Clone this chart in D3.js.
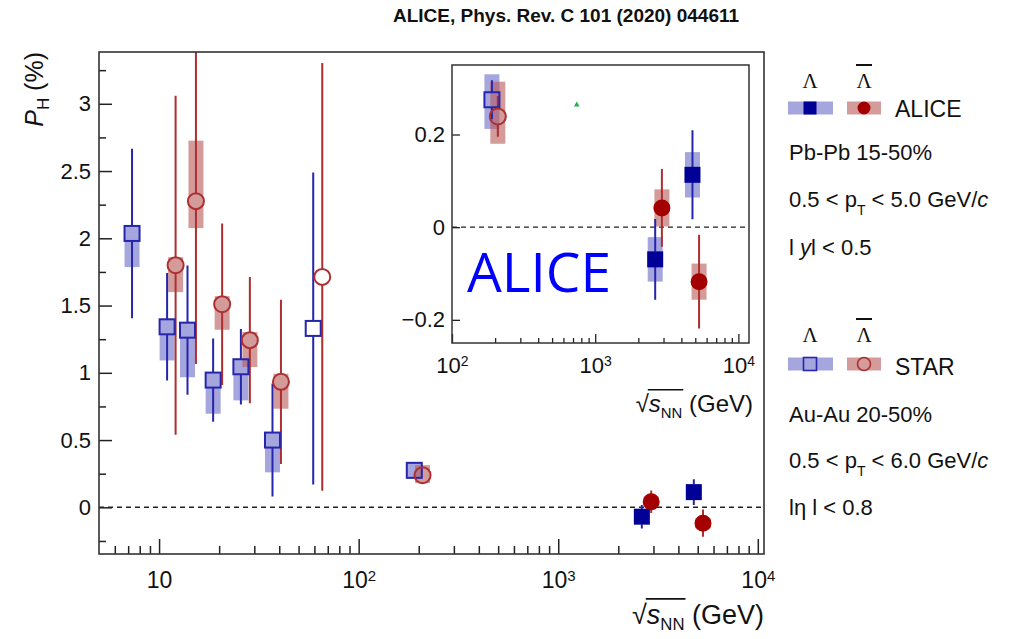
<!DOCTYPE html>
<html>
<head>
<meta charset="utf-8">
<script src="https://cdn.jsdelivr.net/npm/d3@7"></script>
<style>
  body { margin: 0; background: #fff; }
  svg text { font-family: "Liberation Sans", Arial, Helvetica, sans-serif; fill: #111; }
</style>
</head>
<body>
<div id="chart"></div>
<script>
// ---- data (P_H in %, energies in GeV, shifted as drawn) ----
// STAR Au-Au 20-50%, Lambda (open squares)
const starLamEnergy = [7.32, 10.97, 13.88, 18.66, 25.7, 37.0, 59.2, 190];
const starLamPH     = [2.036, 1.342, 1.317, 0.946, 1.045, 0.50, 1.33, 0.275];
const starLamStat   = [0.63, 0.40, 0.48, 0.31, 0.28, 0.42, 1.16, 0.042];
const starLamSysUp  = [0.06, 0.06, 0.06, 0.06, 0.06, 0.06, 0, 0.055];
const starLamSysDn  = [0.25, 0.25, 0.35, 0.25, 0.25, 0.24, 0, 0.063];

// STAR Au-Au 20-50%, anti-Lambda (open circles)
const starAlamEnergy = [12.1, 15.3, 20.7, 28.5, 40.8, 65.7, 209];
const starAlamPH     = [1.80, 2.276, 1.51, 1.243, 0.933, 1.713, 0.239];
const starAlamStat   = [1.26, 1.21, 0.60, 0.47, 0.61, 1.59, 0.044];
const starAlamSysUp  = [0.06, 0.45, 0.06, 0.06, 0.06, 0, 0.075];
const starAlamSysDn  = [0.20, 0.20, 0.19, 0.20, 0.20, 0, 0.059];

// ALICE Pb-Pb 15-50%
const aliceLamEnergy = [2624, 4779];
const aliceLamPH     = [-0.0695, 0.113];
const aliceLamStat   = [0.087, 0.096];
const aliceLamSys    = [0.048, 0.049];

const aliceAlamEnergy = [2923, 5313];
const aliceAlamPH     = [0.0416, -0.1176];
const aliceAlamStat   = [0.084, 0.101];
const aliceAlamSys    = [0.040, 0.039];

// stray green mark inside the inset
const strayEnergy = [743];
const strayPH = [0.264];

// ticks
const mainXMajor = [10, 100, 1000, 10000];
const mainXLabels = [["10", ""], ["10", "2"], ["10", "3"], ["10", "4"]];
const mainXMinor = [6, 7, 8, 9, 20, 30, 40, 50, 60, 70, 80, 90,
  200, 300, 400, 500, 600, 700, 800, 900, 2000, 3000, 4000, 5000, 6000, 7000, 8000, 9000];
const mainYMajor = [0, 0.5, 1, 1.5, 2, 2.5, 3];
const mainYLabels = ["0", "0.5", "1", "1.5", "2", "2.5", "3"];
const mainYMinor = [-0.25, 0.25, 0.75, 1.25, 1.75, 2.25, 2.75, 3.25];

const insetXMajor = [100, 1000, 10000];
const insetXLabels = [["10", "2"], ["10", "3"], ["10", "4"]];
const insetXMinor = [200, 300, 400, 500, 600, 700, 800, 900, 2000, 3000, 4000, 5000, 6000, 7000, 8000, 9000];
const insetYMajor = [-0.2, 0, 0.2];
const insetYLabels = ["\u22120.2", "0", "0.2"];

// colours
const blueLine = "#2626ad", blueBox = "#6b6bc8", blueFill = "#000096";
const redLine = "#ad2f2f", redBox = "#b85858", redFill = "#a30000";
const axisColor = "#222";

const width = 1031, height = 639;

const svg = d3.select("#chart").append("svg")
  .attr("width", width).attr("height", height)
  .attr("viewBox", [0, 0, width, height]);

// ---- helpers ----
function series(energy, ph, stat, up, dn) {
  return energy.map((e, i) => ({ e, v: ph[i], st: stat[i], up: up[i], dn: dn[i] }));
}

function drawBoxes(g, xs, ys, pts, fill) {
  g.append("g").selectAll("rect")
    .data(pts.filter(d => d.up + d.dn > 0))
    .join("rect")
    .attr("x", d => xs(d.e) - 7.5)
    .attr("width", 15)
    .attr("y", d => ys(d.v + d.up))
    .attr("height", d => ys(d.v - d.dn) - ys(d.v + d.up))
    .attr("fill", fill)
    .attr("fill-opacity", 0.6);
}

function drawStat(g, xs, ys, pts, color, half) {
  g.append("g").attr("stroke", color).attr("stroke-width", 2).attr("fill", "none")
    .selectAll("path").data(pts).join("path")
    .attr("d", d => {
      const cx = xs(d.e), cy = ys(d.v);
      const t = ys(d.v + d.st), b = ys(d.v - d.st);
      let p = "";
      if (cy - half > t) p += `M${cx},${t}V${cy - half}`;
      if (cy + half < b) p += `M${cx},${cy + half}V${b}`;
      return p || "M0,0";
    });
}

function drawMarkers(g, xs, ys, pts, shape, stroke, fill, size) {
  const sel = g.append("g").selectAll(shape === "square" ? "rect" : "circle").data(pts);
  if (shape === "square") {
    sel.join("rect")
      .attr("x", d => xs(d.e) - size / 2).attr("y", d => ys(d.v) - size / 2)
      .attr("width", size).attr("height", size)
      .attr("fill", fill).attr("stroke", stroke).attr("stroke-width", 2);
  } else {
    sel.join("circle")
      .attr("cx", d => xs(d.e)).attr("cy", d => ys(d.v)).attr("r", size)
      .attr("fill", fill).attr("stroke", stroke).attr("stroke-width", 2);
  }
}

function addSup(sel, labels, supSize) {
  sel.selectAll(".tick text").each(function (d, i) {
    const lab = labels[i];
    if (lab[1]) {
      d3.select(this).append("tspan").attr("dy", "-0.5em").attr("font-size", supSize).text(lab[1]);
    }
  });
}

function sqrtTitle(g, xRight, yBase, size) {
  const t = g.append("text").attr("x", xRight).attr("y", yBase)
    .attr("text-anchor", "end").attr("font-size", size);
  t.append("tspan").text("\u221A");
  t.append("tspan").attr("font-style", "italic").text("s");
  t.append("tspan").attr("font-size", size * 0.62).attr("dy", size * 0.24).text("NN");
  t.append("tspan").attr("dy", -size * 0.24).text(" (GeV)");
  const n = t.node();
  const b = n.getExtentOfChar(3);
  const r = n.getExtentOfChar(0);
  g.append("line")
    .attr("x1", r.x + r.width - 1).attr("x2", b.x + b.width + 1)
    .attr("y1", yBase - size * 0.93).attr("y2", yBase - size * 0.93)
    .attr("stroke", "#111").attr("stroke-width", size * 0.06);
}

// ---- main plot ----
const mL = 99, mR = 764, mT = 52, mB = 554;
const x = d3.scaleLog().domain([5, 10740]).range([mL, mR]);
const y = d3.scaleLinear().domain([-0.347, 3.385]).range([mB, mT]);

svg.append("clipPath").attr("id", "clipMain")
  .append("rect").attr("x", mL).attr("y", mT).attr("width", mR - mL).attr("height", mB - mT);

const main = svg.append("g");

// x axis
main.append("g").attr("transform", `translate(0,${mB})`).attr("color", axisColor)
  .call(d3.axisBottom(x).tickValues(mainXMinor).tickSize(-8).tickFormat(""))
  .call(g => g.select(".domain").remove())
  .call(g => g.selectAll("line").attr("stroke-width", 1.5));
main.append("g").attr("transform", `translate(0,${mB})`).attr("color", axisColor)
  .call(d3.axisBottom(x).tickValues(mainXMajor).tickSize(-15).tickPadding(18)
    .tickFormat((d, i) => mainXLabels[i][0]))
  .call(g => g.select(".domain").remove())
  .call(g => g.selectAll("line").attr("stroke-width", 1.5))
  .call(g => g.selectAll("text").attr("font-size", 23).attr("fill", "#111")
    .attr("font-family", "Liberation Sans, Arial, sans-serif"))
  .call(g => addSup(g, mainXLabels, 15));

// y axis
main.append("g").attr("transform", `translate(${mL},0)`).attr("color", axisColor)
  .call(d3.axisLeft(y).tickValues(mainYMinor).tickSize(-7).tickFormat(""))
  .call(g => g.select(".domain").remove())
  .call(g => g.selectAll("line").attr("stroke-width", 1.5));
main.append("g").attr("transform", `translate(${mL},0)`).attr("color", axisColor)
  .call(d3.axisLeft(y).tickValues(mainYMajor).tickSize(-13).tickPadding(8)
    .tickFormat((d, i) => mainYLabels[i]))
  .call(g => g.select(".domain").remove())
  .call(g => g.selectAll("line").attr("stroke-width", 1.5))
  .call(g => g.selectAll("text").attr("font-size", 22).attr("fill", "#111")
    .attr("font-family", "Liberation Sans, Arial, sans-serif"));

// zero line
main.append("line")
  .attr("x1", mL).attr("x2", mR).attr("y1", y(0)).attr("y2", y(0))
  .attr("stroke", "#222").attr("stroke-width", 1.4).attr("stroke-dasharray", "5,4");

const starLam = series(starLamEnergy, starLamPH, starLamStat, starLamSysUp, starLamSysDn);
const starAlam = series(starAlamEnergy, starAlamPH, starAlamStat, starAlamSysUp, starAlamSysDn);
const aliceLam = series(aliceLamEnergy, aliceLamPH, aliceLamStat, aliceLamSys, aliceLamSys);
const aliceAlam = series(aliceAlamEnergy, aliceAlamPH, aliceAlamStat, aliceAlamSys, aliceAlamSys);

function drawAll(g, xs, ys) {
  drawBoxes(g, xs, ys, starLam, blueBox);
  drawBoxes(g, xs, ys, starAlam, redBox);
  drawBoxes(g, xs, ys, aliceLam, blueBox);
  drawBoxes(g, xs, ys, aliceAlam, redBox);
  drawStat(g, xs, ys, starLam, blueLine, 7.5);
  drawStat(g, xs, ys, starAlam, redLine, 8);
  drawStat(g, xs, ys, aliceLam, blueLine, 7.5);
  drawStat(g, xs, ys, aliceAlam, redLine, 7.5);
  drawMarkers(g, xs, ys, starLam, "square", blueLine, "none", 15);
  drawMarkers(g, xs, ys, starAlam, "circle", redLine, "none", 8);
  drawMarkers(g, xs, ys, aliceLam, "square", blueFill, blueFill, 14);
  drawMarkers(g, xs, ys, aliceAlam, "circle", redFill, redFill, 7.5);
}

const mainData = main.append("g").attr("clip-path", "url(#clipMain)");
drawAll(mainData, x, y);

// frame
main.append("rect").attr("x", mL).attr("y", mT).attr("width", mR - mL).attr("height", mB - mT)
  .attr("fill", "none").attr("stroke", "#333").attr("stroke-width", 1.6);

// axis titles
sqrtTitle(main, 764, 624, 27);
main.append("text").attr("transform", "translate(43,52) rotate(-90)")
  .attr("text-anchor", "end").attr("font-size", 25)
  .call(t => {
    t.append("tspan").attr("font-style", "italic").text("P");
    t.append("tspan").attr("font-size", 17).attr("dy", 6).text("H");
    t.append("tspan").attr("dy", -6).text(" (%)");
  });

// ---- inset ----
const iL = 452, iR = 749, iT = 65, iB = 343;
const xi = d3.scaleLog().domain([100, 11860]).range([iL, iR]);
const yi = d3.scaleLinear().domain([-0.25, 0.35]).range([iB, iT]);

svg.append("clipPath").attr("id", "clipInset")
  .append("rect").attr("x", iL).attr("y", iT).attr("width", iR - iL).attr("height", iB - iT);

const inset = svg.append("g");
inset.append("rect").attr("x", iL).attr("y", iT).attr("width", iR - iL).attr("height", iB - iT)
  .attr("fill", "#fff");

inset.append("g").attr("transform", `translate(0,${iB})`).attr("color", axisColor)
  .call(d3.axisBottom(xi).tickValues(insetXMinor).tickSize(-5).tickFormat(""))
  .call(g => g.select(".domain").remove())
  .call(g => g.selectAll("line").attr("stroke-width", 1.3));
inset.append("g").attr("transform", `translate(0,${iB})`).attr("color", axisColor)
  .call(d3.axisBottom(xi).tickValues(insetXMajor).tickSize(-9).tickPadding(14)
    .tickFormat((d, i) => insetXLabels[i][0]))
  .call(g => g.select(".domain").remove())
  .call(g => g.selectAll("line").attr("stroke-width", 1.3))
  .call(g => g.selectAll("text").attr("font-size", 22).attr("fill", "#111")
    .attr("font-family", "Liberation Sans, Arial, sans-serif"))
  .call(g => addSup(g, insetXLabels, 14));

inset.append("g").attr("transform", `translate(${iL},0)`).attr("color", axisColor)
  .call(d3.axisLeft(yi).tickValues(insetYMajor).tickSize(-8).tickPadding(7)
    .tickFormat((d, i) => insetYLabels[i]))
  .call(g => g.select(".domain").remove())
  .call(g => g.selectAll("line").attr("stroke-width", 1.3))
  .call(g => g.selectAll("text").attr("font-size", 22).attr("fill", "#111")
    .attr("font-family", "Liberation Sans, Arial, sans-serif"));

inset.append("line")
  .attr("x1", iL).attr("x2", iR).attr("y1", yi(0)).attr("y2", yi(0))
  .attr("stroke", "#222").attr("stroke-width", 1.3).attr("stroke-dasharray", "5,4");

inset.append("text").attr("x", 467).attr("y", 292)
  .attr("font-size", 55)
  .style("font-family", "'Open Sans', sans-serif").style("fill", "#0000ff")
  .text("ALICE");

const insetData = inset.append("g").attr("clip-path", "url(#clipInset)");
drawAll(insetData, xi, yi);

insetData.selectAll(".stray").data(strayEnergy).join("path")
  .attr("class", "stray")
  .attr("transform", (d, i) => `translate(${xi(d)},${yi(strayPH[i])})`)
  .attr("d", d3.symbol(d3.symbolTriangle).size(14))
  .attr("fill", "#22b04a");

inset.append("rect").attr("x", iL).attr("y", iT).attr("width", iR - iL).attr("height", iB - iT)
  .attr("fill", "none").attr("stroke", "#333").attr("stroke-width", 1.5);

sqrtTitle(inset, 753, 412, 24);

// ---- title ----
svg.append("text").attr("x", 393).attr("y", 21.5)
  .attr("font-size", 19).attr("font-weight", "bold")
  .text("ALICE, Phys. Rev. C 101 (2020) 044611");

// ---- legend ----
const legend = svg.append("g");

function lambdaHeads(yBase) {
  legend.append("text").attr("x", 810).attr("y", yBase).attr("text-anchor", "middle")
    .attr("font-size", 21).style("font-family", "'Liberation Serif', 'Times New Roman', serif")
    .text("\u039B");
  legend.append("text").attr("x", 864).attr("y", yBase).attr("text-anchor", "middle")
    .attr("font-size", 21).style("font-family", "'Liberation Serif', 'Times New Roman', serif")
    .text("\u039B");
  legend.append("line").attr("x1", 856).attr("x2", 872)
    .attr("y1", yBase - 23).attr("y2", yBase - 23)
    .attr("stroke", "#111").attr("stroke-width", 2);
}

function legendMarkers(cy, filled, name, textBase) {
  legend.append("rect").attr("x", 788).attr("y", cy - 6.5).attr("width", 45).attr("height", 13)
    .attr("fill", blueBox).attr("fill-opacity", 0.6);
  legend.append("rect").attr("x", 847).attr("y", cy - 6.5).attr("width", 34).attr("height", 13)
    .attr("fill", redBox).attr("fill-opacity", 0.6);
  if (filled) {
    legend.append("rect").attr("x", 803.5).attr("y", cy - 6.5).attr("width", 13).attr("height", 13)
      .attr("fill", blueFill);
    legend.append("circle").attr("cx", 864).attr("cy", cy).attr("r", 6.5).attr("fill", redFill);
  } else {
    legend.append("rect").attr("x", 803.5).attr("y", cy - 6.5).attr("width", 13).attr("height", 13)
      .attr("fill", "none").attr("stroke", blueLine).attr("stroke-width", 1.6);
    legend.append("circle").attr("cx", 864).attr("cy", cy).attr("r", 6.5)
      .attr("fill", "none").attr("stroke", redLine).attr("stroke-width", 1.6);
  }
  legend.append("text").attr("x", 895).attr("y", textBase).attr("font-size", 23).text(name);
}

function ptLine(yBase, lo, hi) {
  const t = legend.append("text").attr("x", 789).attr("y", yBase).attr("font-size", 22);
  t.append("tspan").text(`${lo} < p`);
  t.append("tspan").attr("font-size", 14).attr("dy", 8).text("T");
  t.append("tspan").attr("dy", -8).text(` < ${hi} GeV/`);
  t.append("tspan").attr("font-style", "italic").text("c");
}

lambdaHeads(88);
legendMarkers(108, true, "ALICE", 117);
legend.append("text").attr("x", 789).attr("y", 160).attr("font-size", 22).text("Pb-Pb 15-50%");
ptLine(207, "0.5", "5.0");
legend.append("text").attr("x", 789).attr("y", 255).attr("font-size", 22)
  .call(t => {
    t.append("tspan").text("l ");
    t.append("tspan").attr("font-style", "italic").text("y");
    t.append("tspan").text("l < 0.5");
  });

lambdaHeads(342);
legendMarkers(364, false, "STAR", 375);
legend.append("text").attr("x", 789).attr("y", 422).attr("font-size", 22).text("Au-Au 20-50%");
ptLine(468, "0.5", "6.0");
legend.append("text").attr("x", 789).attr("y", 515).attr("font-size", 22).text("l\u03B7 l < 0.8");
</script>
</body>
</html>
